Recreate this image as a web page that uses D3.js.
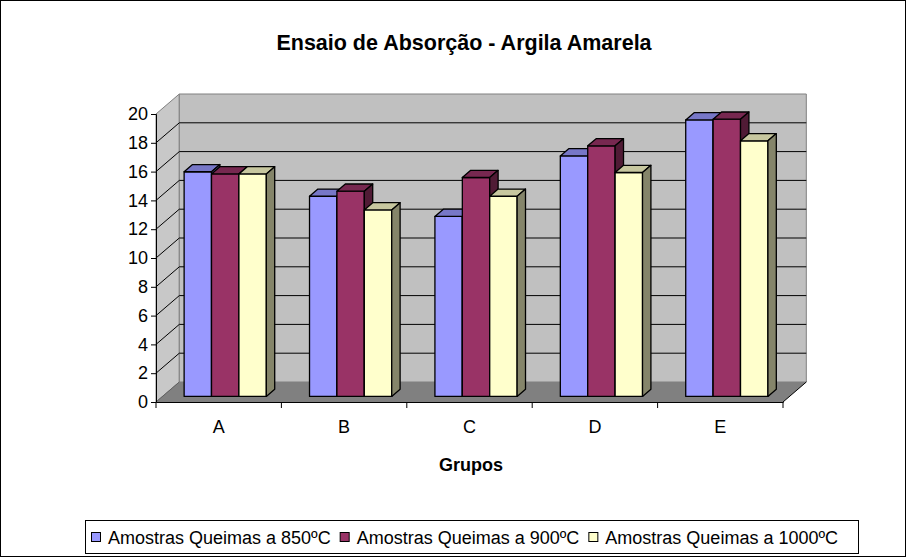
<!DOCTYPE html>
<html>
<head>
<meta charset="utf-8">
<script src="https://cdn.jsdelivr.net/npm/d3@7"></script>
<style>
  html, body { margin: 0; padding: 0; background: #fff; }
  svg { display: block; font-family: "Liberation Sans", Arial, sans-serif; }
</style>
</head>
<body>
<svg id="chart" width="906" height="557"></svg>
<script>
// Absorption test, yellow clay — three firing temperatures per group
const categories = ["A", "B", "C", "D", "E"];
const seriesNames = ["Amostras Queimas a 850ºC", "Amostras Queimas a 900ºC", "Amostras Queimas a 1000ºC"];
const values850 = [15.6, 13.9, 12.5, 16.7, 19.2];
const values900 = [15.45, 14.25, 15.2, 17.4, 19.25];
const values1000 = [15.45, 12.95, 13.9, 15.55, 17.75];
const yTicks = [0, 2, 4, 6, 8, 10, 12, 14, 16, 18, 20];

const seriesValues = [values850, values900, values1000];
const frontColors = ["#9999ff", "#993366", "#ffffcc"];

const svg = d3.select("#chart");
const W = 906, H = 557;

// outer chart frame
svg.append("rect").attr("x", 0.5).attr("y", 0.5).attr("width", W - 1).attr("height", H - 1)
  .attr("fill", "#fff").attr("stroke", "#000").attr("stroke-width", 1);

// front plane scales
const x = d3.scaleBand().domain(categories).range([156, 783]).paddingInner(0).paddingOuter(0);
const y = d3.scaleLinear().domain([0, 20]).range([402, 114]);

// oblique depth projection
const DX = 23.3, DY = 20;
const P = (px, py, d) => [px + d * DX, py - d * DY];
const poly = pts => pts.map(p => p.join(",")).join(" ");

const x0 = x.range()[0], x1 = x.range()[1];
const yBase = y(0), yTop = y(20);

// side wall
svg.append("polygon")
  .attr("points", poly([[x0, yTop], P(x0, yTop, 1), P(x0, yBase, 1), [x0, yBase]]))
  .attr("fill", "#c8c8c8").attr("stroke", "#808080").attr("stroke-width", 1);
// back wall
svg.append("polygon")
  .attr("points", poly([P(x0, yTop, 1), P(x1, yTop, 1), P(x1, yBase, 1), P(x0, yBase, 1)]))
  .attr("fill", "#c0c0c0").attr("stroke", "#808080").attr("stroke-width", 1);
// floor
svg.append("polygon")
  .attr("points", poly([[x0, yBase], [x1, yBase], P(x1, yBase, 1), P(x0, yBase, 1)]))
  .attr("fill", "#808080").attr("stroke", "none");
svg.append("line")
  .attr("x1", x1).attr("y1", yBase).attr("x2", P(x1, yBase, 1)[0]).attr("y2", P(x1, yBase, 1)[1])
  .attr("stroke", "#000").attr("stroke-width", 1);
svg.append("line")
  .attr("x1", x0).attr("y1", yBase).attr("x2", P(x0, yBase, 1)[0]).attr("y2", P(x0, yBase, 1)[1])
  .attr("stroke", "#606060").attr("stroke-width", 1);

// gridlines on back and side walls
const gridTicks = yTicks.filter(t => t > 0 && t < 20);
const grid = svg.append("g").attr("stroke", "#000").attr("stroke-width", 1).attr("fill", "none");
gridTicks.forEach(t => {
  const a = P(x0, y(t), 1), b = P(x1, y(t), 1);
  grid.append("line").attr("x1", a[0]).attr("y1", a[1]).attr("x2", b[0]).attr("y2", b[1]);
  grid.append("line").attr("x1", x0).attr("y1", y(t)).attr("x2", a[0]).attr("y2", a[1]);
});

// bars
const band = x.bandwidth();
const barW = band * 0.2185;
const groupOff = (band - seriesNames.length * barW) / 2;
const d0 = 0.28, d1 = 0.64;
const shade = (c, k) => { const r = d3.rgb(c); return d3.rgb(r.r * k, r.g * k, r.b * k).formatHex(); };

const barsG = svg.append("g").attr("stroke", "#000").attr("stroke-width", 1.3).attr("stroke-linejoin", "round");
categories.forEach((cat, ci) => {
  seriesValues.forEach((vals, si) => {
    const v = vals[ci];
    const left = x(cat) + groupOff + si * barW, right = left + barW;
    const bot = y(0), top = y(v);
    const fl = P(left, top, d0), fr = P(right, top, d0), frb = P(right, bot, d0), flb = P(left, bot, d0);
    const bl = P(left, top, d1), br = P(right, top, d1), brb = P(right, bot, d1);
    const g = barsG.append("g");
    g.append("polygon").attr("points", poly([fl, fr, frb, flb])).attr("fill", frontColors[si]);
    g.append("polygon").attr("points", poly([fl, bl, br, fr])).attr("fill", shade(frontColors[si], 0.78));
    g.append("polygon").attr("points", poly([fr, br, brb, frb])).attr("fill", shade(frontColors[si], 0.52));
  });
});

// value axis on the front edge
const yAxis = svg.append("g").attr("transform", `translate(${x0},0)`)
  .call(d3.axisLeft(y).tickValues(yTicks).tickSize(5).tickPadding(3).tickFormat(d3.format("d")));
yAxis.select(".domain").attr("stroke", "#000").attr("stroke-width", 1);
yAxis.selectAll(".tick line").attr("stroke", "#000");
yAxis.selectAll("text").attr("font-size", 18).attr("fill", "#000")
  .attr("font-family", "'Liberation Sans', Arial, sans-serif");

// category axis
const xAxis = svg.append("g").attr("transform", `translate(0,${yBase})`)
  .call(d3.axisBottom(x).tickSize(0).tickPadding(18));
xAxis.select(".domain").attr("stroke", "#000").attr("stroke-width", 1);
xAxis.selectAll("text").attr("font-size", 18).attr("fill", "#000")
  .attr("font-family", "'Liberation Sans', Arial, sans-serif");
const boundaries = categories.map(c => x(c)).concat([x1]);
svg.append("g").selectAll("line").data(boundaries).join("line")
  .attr("x1", d => d).attr("x2", d => d).attr("y1", yBase).attr("y2", yBase + 6)
  .attr("stroke", "#000").attr("stroke-width", 1);

// titles
svg.append("text").attr("x", 464).attr("y", 50).attr("text-anchor", "middle")
  .attr("font-size", 21.5).attr("font-weight", "bold").text("Ensaio de Absorção - Argila Amarela");
svg.append("text").attr("x", 471).attr("y", 471).attr("text-anchor", "middle")
  .attr("font-size", 18).attr("font-weight", "bold").text("Grupos");

// legend
const legend = svg.append("g");
legend.append("rect").attr("x", 85.5).attr("y", 520.5).attr("width", 773).attr("height", 33)
  .attr("fill", "#fff").attr("stroke", "#000").attr("stroke-width", 1);
let lx = 91;
seriesNames.forEach((name, i) => {
  legend.append("rect").attr("x", lx + 0.5).attr("y", 532.5).attr("width", 9).attr("height", 9)
    .attr("fill", frontColors[i]).attr("stroke", "#000").attr("stroke-width", 1);
  const t = legend.append("text").attr("x", lx + 17).attr("y", 543.5).attr("font-size", 18).text(name);
  lx += 17 + t.node().getComputedTextLength() + 9;
});
</script>
</body>
</html>
